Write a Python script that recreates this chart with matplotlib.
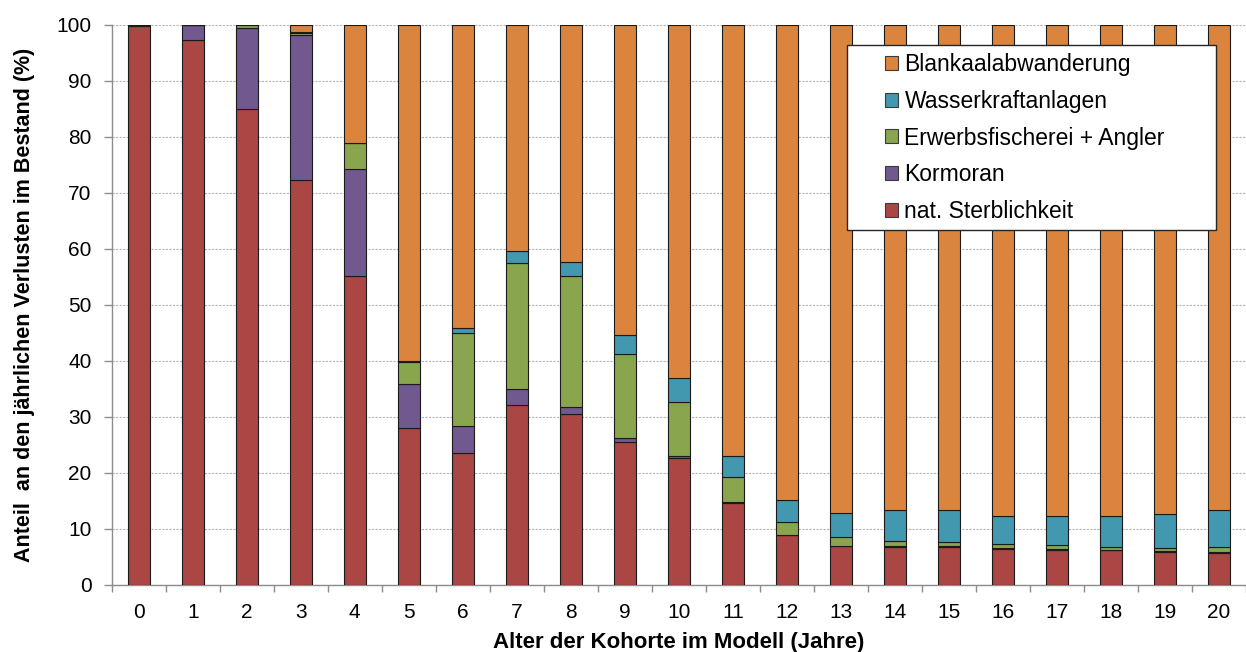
import matplotlib
matplotlib.use("Agg")
import matplotlib.pyplot as plt
from matplotlib.patches import Rectangle, Patch
import numpy as np

plt.rcParams['font.family'] = ['Liberation Sans', 'DejaVu Sans']

# Alter der Kohorte (Jahre)
ages = [str(a) for a in range(21)]

# Anteile an den jährlichen Verlusten (%) je Verlustursache
nat_sterblichkeit = [99.8, 97.3, 85.0, 72.3, 55.2, 28.1, 23.6, 32.1, 30.5, 25.5, 22.6,
                     14.7, 8.9, 6.9, 6.8, 6.8, 6.5, 6.3, 6.2, 5.95, 5.8]
kormoran = [0.1, 2.7, 14.4, 25.8, 19.1, 7.8, 4.7, 2.8, 1.3, 0.7, 0.35,
            0.1, 0.1, 0.05, 0.1, 0.1, 0.1, 0.1, 0.05, 0.1, 0.1]
fischerei_angler = [0.0, 0.0, 0.6, 0.4, 4.5, 3.9, 16.6, 22.6, 23.3, 15.1, 9.75,
                    4.4, 2.2, 1.55, 1.0, 0.7, 0.7, 0.7, 0.45, 0.55, 0.8]
wasserkraft = [0.0, 0.0, 0.0, 0.2, 0.0, 0.2, 0.9, 2.1, 2.6, 3.4, 4.2,
               3.9, 4.0, 4.3, 5.4, 5.7, 5.1, 5.3, 5.7, 6.0, 6.7]
blankaal = [0.1, 0.0, 0.0, 1.3, 21.2, 60.0, 54.2, 40.4, 42.3, 55.3, 63.1,
            76.9, 84.8, 87.2, 86.7, 86.7, 87.6, 87.6, 87.6, 87.4, 86.6]

series = [
    ("nat. Sterblichkeit", nat_sterblichkeit, "#AA4643"),
    ("Kormoran", kormoran, "#71588F"),
    ("Erwerbsfischerei + Angler", fischerei_angler, "#89A54E"),
    ("Wasserkraftanlagen", wasserkraft, "#4198AF"),
    ("Blankaalabwanderung", blankaal, "#DB843D"),
]

W, H = 1246, 652
fig = plt.figure(figsize=(W / 100, H / 100), dpi=100)
ax_l, ax_r, ax_b, ax_t = 111.7, 1246.0, 585.0, 24.7
ax = fig.add_axes([ax_l / W, (H - ax_b) / H, (ax_r - ax_l) / W, (ax_b - ax_t) / H])

x = np.arange(len(ages))
bottom = np.zeros(len(ages))
for name, vals, col in series:
    vals = np.asarray(vals, dtype=float)
    ax.bar(x, vals, bottom=bottom, width=0.4, color=col, edgecolor="#1a1a1a",
           linewidth=0.8, zorder=3)
    bottom += vals

ax.set_xlim(-0.5, len(ages) - 0.5)
ax.set_ylim(0, 100)
ax.set_yticks(np.arange(0, 101, 10))
ax.yaxis.grid(True, color="#b3b3b3", linestyle=(0, (2, 1.2)), linewidth=0.8, zorder=0)
ax.set_axisbelow(True)

for s in ("top", "right"):
    ax.spines[s].set_visible(False)
for s in ("left", "bottom"):
    ax.spines[s].set_color("#8c8c8c")
    ax.spines[s].set_linewidth(1.0)

ax.set_xticks(x)
ax.set_xticklabels(ages)
ax.set_xticks(np.arange(-0.5, len(ages) - 0.4, 1.0), minor=True)
ax.tick_params(axis="x", which="major", length=0, pad=13, labelsize=15)
ax.tick_params(axis="x", which="minor", length=5, width=1.0, color="#8c8c8c", direction="out")
ax.tick_params(axis="y", which="major", length=5.5, width=1.0, color="#8c8c8c",
               pad=9.0, labelsize=15)

ax.set_xlabel("Alter der Kohorte im Modell (Jahre)", fontsize=16, fontweight="bold")
ax.xaxis.set_label_coords(0.5, -0.083)
ax.set_ylabel("Anteil  an den jährlichen Verlusten im Bestand (%)", fontsize=15.5,
              fontweight="bold")
ax.yaxis.set_label_coords(-0.068, 0.5)

# Legendenrahmen
box_x0 = (846.7 - ax_l) / (ax_r - ax_l)
box_x1 = (1215.7 - ax_l) / (ax_r - ax_l)
box_y0 = (ax_b - 230.0) / (ax_b - ax_t)
box_y1 = (ax_b - 45.0) / (ax_b - ax_t)
ax.add_patch(Rectangle((box_x0, box_y0), box_x1 - box_x0, box_y1 - box_y0,
                       transform=ax.transAxes, facecolor="white", edgecolor="#262626",
                       linewidth=1.0, zorder=6, clip_on=False))

handles = [Patch(facecolor=col, edgecolor="#3a3a3a", linewidth=0.8, label=name)
           for name, _, col in reversed(series)]
leg = ax.legend(handles=handles, loc="upper left",
                bbox_to_anchor=((885.0 - ax_l) / (ax_r - ax_l), (ax_b - 53.0) / (ax_b - ax_t)),
                frameon=False, fontsize=16.5, handlelength=0.55, handleheight=0.55,
                handletextpad=0.3, labelspacing=0.6, borderpad=0.0, borderaxespad=0.0)
leg.set_zorder(7)

fig.savefig("out.png", dpi=100)
